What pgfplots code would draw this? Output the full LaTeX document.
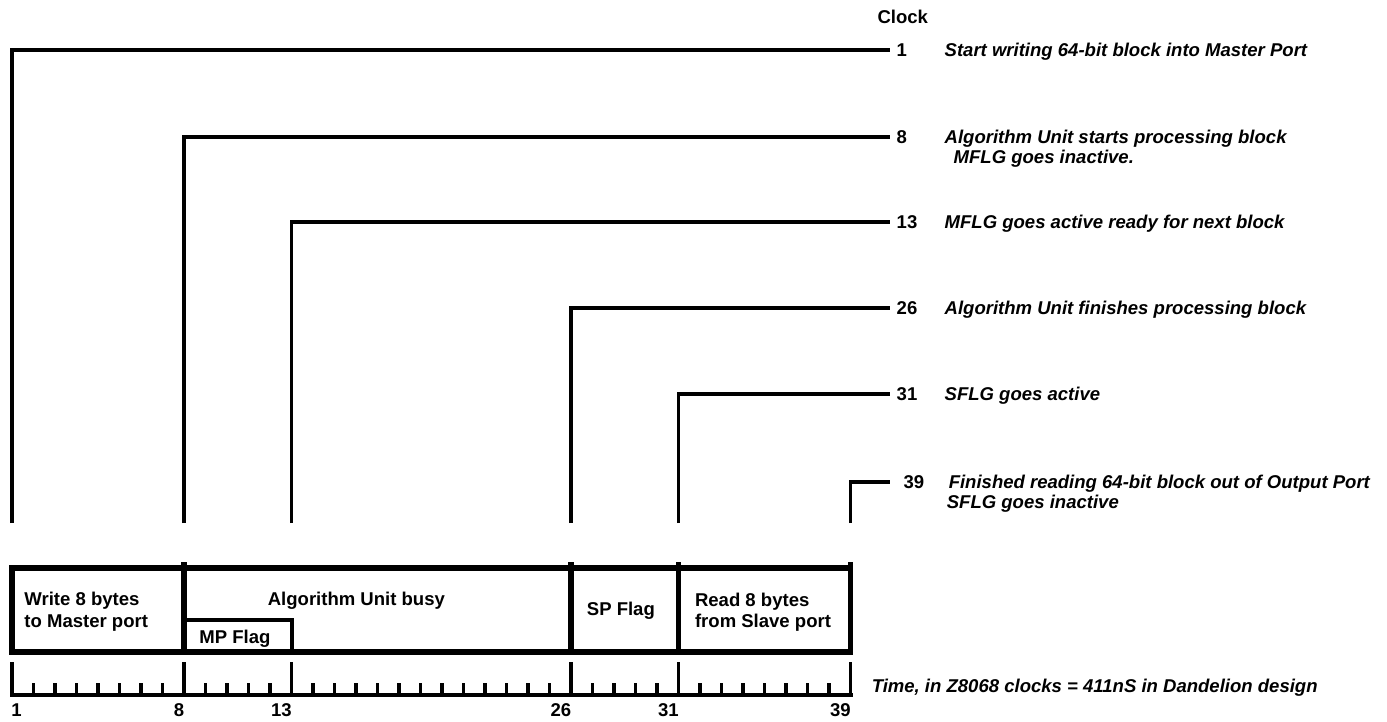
\documentclass[border=0pt]{standalone}
\usepackage{fontspec}
\setmainfont{Liberation Sans}
\usepackage{pgfplots}
\pgfplotsset{compat=1.18}
\newcommand{\fs}{\fontsize{13.9}{15}\selectfont}
\begin{document}
\begin{tikzpicture}
\begin{axis}[
  scale only axis,
  width=628.875pt, height=520.875pt,
  xmin=0, xmax=39, ymin=26.5, ymax=721,
  clip=false,
  axis x line=bottom, axis y line=none,
  x axis line style={-, line width=3pt, line cap=rect},
  xtick={0,8,13,26,31,39},
  xticklabels={\makebox[0pt][l]{1},8,13,26,31,39},
  minor xtick={1,...,38},
  tick align=inside,
  major tick length=24.75pt,
  minor tick length=9pt,
  tick style={black, line width=2.6pt},
  xticklabel style={font=\fs\bfseries, anchor=base east, inner sep=0pt, xshift=0.3pt, yshift=-16.5pt},
  ytick=\empty,
  every node/.style={inner sep=0pt, font=\fs},
]
% event leader lines: (clock position, bottom) -> (clock position, level) -> label column
\addplot[black, line width=2.6pt, line join=miter] coordinates {(0,198) (0,671) (40.84,671)};
\addplot[black, line width=2.6pt, line join=miter] coordinates {(8,198) (8,584) (40.84,584)};
\addplot[black, line width=2.6pt, line join=miter] coordinates {(13,198) (13,499) (40.84,499)};
\addplot[black, line width=2.6pt, line join=miter] coordinates {(26,198) (26,413) (40.84,413)};
\addplot[black, line width=2.6pt, line join=miter] coordinates {(31,198) (31,327) (40.84,327)};
\addplot[black, line width=2.6pt, line join=miter] coordinates {(39,198) (39,239) (40.84,239)};
% activity box
\addplot[black, line width=4.2pt, line join=miter] coordinates {(0,153) (39,153) (39,69) (0,69) (0,153) (39,153)};
\addplot[black, line width=4.2pt] coordinates {(8,69) (8,159)};
\addplot[black, line width=4.2pt] coordinates {(26,69) (26,159)};
\addplot[black, line width=4.2pt] coordinates {(31,69) (31,159)};
\addplot[black, line width=4.2pt] coordinates {(39,150) (39,159)};
\addplot[black, line width=3pt, line join=miter] coordinates {(8,101) (13,101) (13,69)};
% texts
\node[anchor=base west, font=\fs\bfseries] at (axis cs:40.04,697.4) {Clock};
\node[anchor=base west, font=\fs\bfseries] at (axis cs:40.93,664.4) {1};
\node[anchor=base west, font=\fs\bfseries] at (axis cs:40.93,577.4) {8};
\node[anchor=base west, font=\fs\bfseries] at (axis cs:40.93,492.4) {13};
\node[anchor=base west, font=\fs\bfseries] at (axis cs:40.93,406.4) {26};
\node[anchor=base west, font=\fs\bfseries] at (axis cs:40.93,320.4) {31};
\node[anchor=base west, font=\fs\bfseries] at (axis cs:41.25,232.4) {39};
\node[anchor=base west, font=\fs\bfseries\itshape] at (axis cs:43.16,664.4) {Start writing 64-bit block into Master Port};
\node[anchor=base west, font=\fs\bfseries\itshape] at (axis cs:43.16,577.4) {Algorithm Unit starts processing block};
\node[anchor=base west, font=\fs\bfseries\itshape] at (axis cs:43.58,557.4) {MFLG goes inactive.};
\node[anchor=base west, font=\fs\bfseries\itshape] at (axis cs:43.16,492.4) {MFLG goes active ready for next block};
\node[anchor=base west, font=\fs\bfseries\itshape] at (axis cs:43.16,406.4) {Algorithm Unit finishes processing block};
\node[anchor=base west, font=\fs\bfseries\itshape] at (axis cs:43.16,320.4) {SFLG goes active};
\node[anchor=base west, font=\fs\bfseries\itshape] at (axis cs:43.35,232.4) {Finished reading 64-bit block out of Output Port};
\node[anchor=base west, font=\fs\bfseries\itshape] at (axis cs:43.26,212.4) {SFLG goes inactive};
\node[anchor=base west, font=\fs\bfseries] at (axis cs:0.36,116) {Write 8 bytes};
\node[anchor=base west, font=\fs\bfseries] at (axis cs:0.36,94) {to Master port};
\node[anchor=base west, font=\fs\bfseries] at (axis cs:11.68,116) {Algorithm Unit busy};
\node[anchor=base west, font=\fs\bfseries] at (axis cs:8.50,77.7) {MP Flag};
\node[anchor=base west, font=\fs\bfseries] at (axis cs:26.52,106) {SP Flag};
\node[anchor=base west, font=\fs\bfseries] at (axis cs:31.55,114.3) {Read 8 bytes};
\node[anchor=base west, font=\fs\bfseries] at (axis cs:31.55,94) {from Slave port};
\node[anchor=base west, font=\fs\bfseries\itshape] at (axis cs:39.77,28.4) {Time, in Z8068 clocks = 411nS in Dandelion design};
% page extent
\path (axis cs:-0.5581,0) rectangle (axis cs:63.953,721);
\end{axis}
\end{tikzpicture}
\end{document}
